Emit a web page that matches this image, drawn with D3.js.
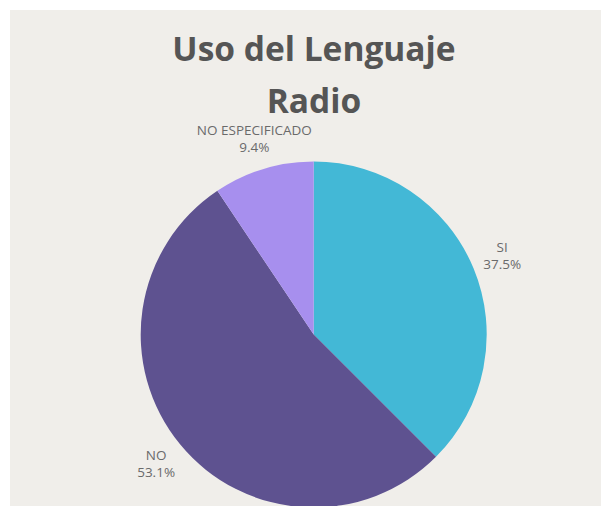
<!DOCTYPE html>
<html>
<head>
<meta charset="utf-8">
<script src="https://cdn.jsdelivr.net/npm/d3@7"></script>
<style>
  html, body { margin: 0; padding: 0; background: #ffffff; }
  svg { display: block; }
</style>
</head>
<body>
<svg id="chart" width="601" height="506"></svg>
<script>
const titleLines = ["Uso del Lenguaje", "Radio"];
const categories = ["SI", "NO", "NO ESPECIFICADO"];
const values = [37.5, 53.1, 9.4];
const colors = ["#43b8d6", "#5e5290", "#a78fee"];

const W = 601, H = 506;
const svg = d3.select("#chart");

svg.append("rect")
  .attr("x", 10).attr("y", 10)
  .attr("width", W - 10).attr("height", H - 10)
  .attr("fill", "#f0eeea");

const title = svg.append("text")
  .attr("text-anchor", "middle")
  .attr("font-family", "'Open Sans', sans-serif")
  .attr("font-weight", 700)
  .attr("font-size", 33.5)
  .attr("fill", "#555555");
titleLines.forEach((t, i) => {
  title.append("tspan").attr("x", 314).attr("y", 61 + i * 52).text(t);
});

const cx = 313.7, cy = 334.5, r = 173, labelR = 204;
const data = categories.map((c, i) => ({ name: c, value: values[i], color: colors[i] }));

const pie = d3.pie().value(d => d.value).sort(null);
const arcs = pie(data);
const arc = d3.arc().innerRadius(0).outerRadius(r);
const labelArc = d3.arc().innerRadius(labelR).outerRadius(labelR);

const g = svg.append("g").attr("transform", `translate(${cx},${cy})`);

g.selectAll("path.slice")
  .data(arcs)
  .join("path")
  .attr("class", "slice")
  .attr("d", arc)
  .attr("fill", d => d.data.color);

const fmt = d3.format(".1f");
const labels = g.selectAll("text.lbl")
  .data(arcs)
  .join("text")
  .attr("class", "lbl")
  .attr("text-anchor", "middle")
  .attr("font-family", "'Open Sans', sans-serif")
  .attr("font-size", 13.5)
  .attr("fill", "#6a6a6a");

labels.each(function(d) {
  const [x, y] = labelArc.centroid(d);
  const t = d3.select(this);
  t.append("tspan").attr("x", x).attr("y", y - 4).text(d.data.name);
  t.append("tspan").attr("x", x).attr("y", y + 12.5).text(fmt(d.data.value) + "%");
});
</script>
</body>
</html>
